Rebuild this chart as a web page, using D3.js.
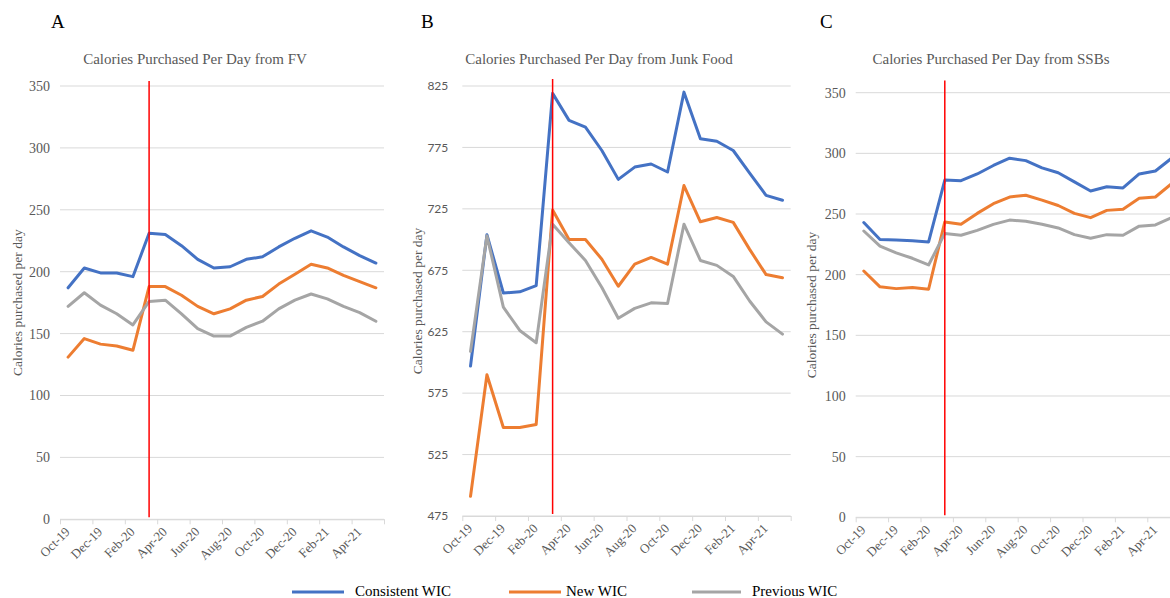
<!DOCTYPE html>
<html>
<head>
  <meta charset="utf-8">
  <title>Calories Purchased Per Day</title>
  <script src="https://cdnjs.cloudflare.com/ajax/libs/d3/7.8.5/d3.min.js"></script>
  <style>
    body { margin: 0; background: #fff; }
    svg { display: block; }
    text { font-family: "Liberation Serif", "Times New Roman", serif; }
  </style>
</head>
<body>
  <svg id="chart"></svg>
  <script>
    /** Data */
    const months = ["Oct-19", "Nov-19", "Dec-19", "Jan-20", "Feb-20", "Mar-20", "Apr-20", "May-20",
      "Jun-20", "Jul-20", "Aug-20", "Sep-20", "Oct-20", "Nov-20", "Dec-20", "Jan-21", "Feb-21",
      "Mar-21", "Apr-21", "May-21"];
    const tickLabels = ["Oct-19", "Dec-19", "Feb-20", "Apr-20", "Jun-20", "Aug-20", "Oct-20",
      "Dec-20", "Feb-21", "Apr-21", ""];
    const interventionMonth = "Mar-20";
    const seriesNames = ["Consistent WIC", "New WIC", "Previous WIC"];

    const fvConsistent = [187, 203, 199, 199, 196, 231, 230, 221, 210, 203, 204, 210, 212, 220, 227, 233, 228, 220, 213, 207];
    const fvNew = [131, 146, 141.5, 140, 136.5, 188, 188, 181, 172, 166, 170, 177, 180, 190, 198, 206, 203, 197, 192, 187];
    const fvPrevious = [172, 183, 173, 166, 157, 176, 177, 166, 154, 148, 148, 155, 160, 170, 177, 182, 178, 172, 167, 160];

    const junkConsistent = [597, 704, 656.5, 657.5, 662.5, 819, 797, 791.5, 772.5, 749, 759, 761.5, 755, 820, 782, 780, 772.5, 754, 736, 732];
    const junkNew = [491, 590, 547, 547, 549.5, 724, 700, 700, 684, 662, 680, 685.5, 680, 744, 714.5, 718, 714, 692, 671.5, 669];
    const junkPrevious = [609, 703, 645, 626, 616, 712.5, 697.5, 683, 661, 636, 644, 648.5, 648, 712.5, 683, 679, 670, 650, 633, 623];

    const ssbConsistent = [243, 229, 228.5, 228, 227, 278, 277.5, 283, 290, 296, 294, 288, 284, 276.5, 269, 272.5, 271.5, 283, 285.5, 296];
    const ssbNew = [203, 190, 188.5, 189.5, 188, 243.5, 241.5, 250.5, 258.5, 264, 265.5, 261.5, 257, 250.5, 247, 253, 254, 263, 264, 275];
    const ssbPrevious = [236, 223.5, 218, 213.5, 208, 234, 232.5, 236.5, 241.5, 245, 244, 241.5, 238.5, 233, 230, 233, 232.5, 240, 241, 247];

    const fvTicks = [0, 50, 100, 150, 200, 250, 300, 350];
    const junkTicks = [475, 525, 575, 625, 675, 725, 775, 825];
    const ssbTicks = [0, 50, 100, 150, 200, 250, 300, 350];

    /** Styling */
    const colors = ["#4472C4", "#ED7D31", "#A5A5A5"];
    const gridColor = "#d9d9d9";
    const textColor = "#595959";

    const width = 1170, height = 598;
    const svg = d3.select("#chart").attr("width", width).attr("height", height)
      .attr("viewBox", [0, 0, width, height]);

    /** Panel layout */
    const panels = [
      { letter: "A", title: "Calories Purchased Per Day from FV", series: [fvConsistent, fvNew, fvPrevious],
        ticks: fvTicks, left: 60, right: 384, top: 86, bottom: 519.3, letterX: 51, titleX: 195,
        labelX: 17, tickFont: "serif", redTop: 81 },
      { letter: "B", title: "Calories Purchased Per Day from Junk Food", series: [junkConsistent, junkNew, junkPrevious],
        ticks: junkTicks, left: 462.3, right: 790.7, top: 86, bottom: 516, letterX: 421, titleX: 599,
        labelX: 417, tickFont: "sans", redTop: 79 },
      { letter: "C", title: "Calories Purchased Per Day from SSBs", series: [ssbConsistent, ssbNew, ssbPrevious],
        ticks: ssbTicks, left: 855.7, right: 1179.7, top: 92.7, bottom: 517.3, letterX: 820, titleX: 991,
        labelX: 811, tickFont: "serif", redTop: 80.5 }
    ];

    panels.forEach(p => drawPanel(p));

    function drawPanel(p) {
      const g = svg.append("g");

      let x = d3.scaleLinear().domain([0, months.length]).range([p.left, p.right]);
      let y = d3.scaleLinear().domain(d3.extent(p.ticks)).range([p.bottom, p.top]);

      /** Grid lines */
      g.append("g")
        .selectAll("line")
        .data(p.ticks)
        .join("line")
        .attr("x1", p.left).attr("x2", p.right)
        .attr("y1", d => y(d)).attr("y2", d => y(d))
        .attr("stroke", gridColor).attr("stroke-width", 1);

      /** Y tick labels */
      const yAxis = g.append("g")
        .attr("transform", `translate(${p.left},0)`)
        .call(d3.axisLeft(y).tickValues(p.ticks).tickSize(0).tickPadding(p.tickFont == "sans" ? 14 : 10));
      yAxis.select(".domain").remove();
      yAxis.selectAll("text")
        .attr("fill", textColor)
        .style("font-family", p.tickFont == "sans" ? "Lato, 'Liberation Sans', sans-serif" : "'Liberation Serif', serif")
        .style("font-size", p.tickFont == "sans" ? "12px" : "14px");

      /** X axis */
      const xAxis = g.append("g")
        .attr("transform", `translate(0,${p.bottom})`)
        .call(d3.axisBottom(x)
          .tickValues(d3.range(0, months.length + 1, 2))
          .tickFormat((d, i) => tickLabels[i])
          .tickSize(5).tickSizeOuter(0));
      xAxis.select(".domain").attr("stroke", gridColor);
      xAxis.selectAll(".tick line").attr("stroke", gridColor);
      xAxis.selectAll(".tick text")
        .attr("fill", textColor)
        .style("font-family", "'Liberation Serif', serif")
        .style("font-size", "13px")
        .attr("text-anchor", "end")
        .attr("y", 0).attr("dy", "0.35em")
        .attr("transform", "translate(7,10) rotate(-45)");

      /** Data lines */
      const line = d3.line()
        .x((d, i) => x(i + 0.5))
        .y(d => y(d));

      g.append("g")
        .selectAll("path")
        .data(p.series)
        .join("path")
        .attr("d", d => line(d))
        .attr("fill", "none")
        .attr("stroke", (d, i) => colors[i])
        .attr("stroke-width", 3)
        .attr("stroke-linejoin", "round")
        .attr("stroke-linecap", "round");

      /** Intervention marker */
      const xm = x(months.indexOf(interventionMonth) + 0.5);
      g.append("line")
        .attr("x1", xm).attr("x2", xm)
        .attr("y1", p.redTop).attr("y2", p.bottom - 2)
        .attr("stroke", "#ff0000").attr("stroke-width", 1.5);

      /** Titles and labels */
      g.append("text")
        .attr("x", p.letterX).attr("y", 28)
        .attr("fill", "#000")
        .style("font-size", "19px")
        .text(p.letter);

      g.append("text")
        .attr("x", p.titleX).attr("y", 64)
        .attr("text-anchor", "middle")
        .attr("fill", textColor)
        .style("font-size", "15px")
        .text(p.title);

      g.append("text")
        .attr("transform", `translate(${p.labelX},${(p.top + p.bottom) / 2}) rotate(-90)`)
        .attr("text-anchor", "middle")
        .attr("dy", "0.35em")
        .attr("fill", textColor)
        .style("font-size", "13.5px")
        .text("Calories purchased per day");
    }

    /** Legend */
    const legendX = [292, 509, 692];
    const legend = svg.append("g")
      .selectAll("g")
      .data(seriesNames)
      .join("g")
      .attr("transform", (d, i) => `translate(${legendX[i]},592)`);

    legend.append("line")
      .attr("x1", 0).attr("x2", (d, i) => [52, 52, 49][i])
      .attr("stroke", (d, i) => colors[i])
      .attr("stroke-width", 3);

    legend.append("text")
      .attr("x", (d, i) => [63, 57, 60][i])
      .attr("y", 4)
      .attr("fill", "#000")
      .style("font-size", "15px")
      .text(d => d);
  </script>
</body>
</html>
